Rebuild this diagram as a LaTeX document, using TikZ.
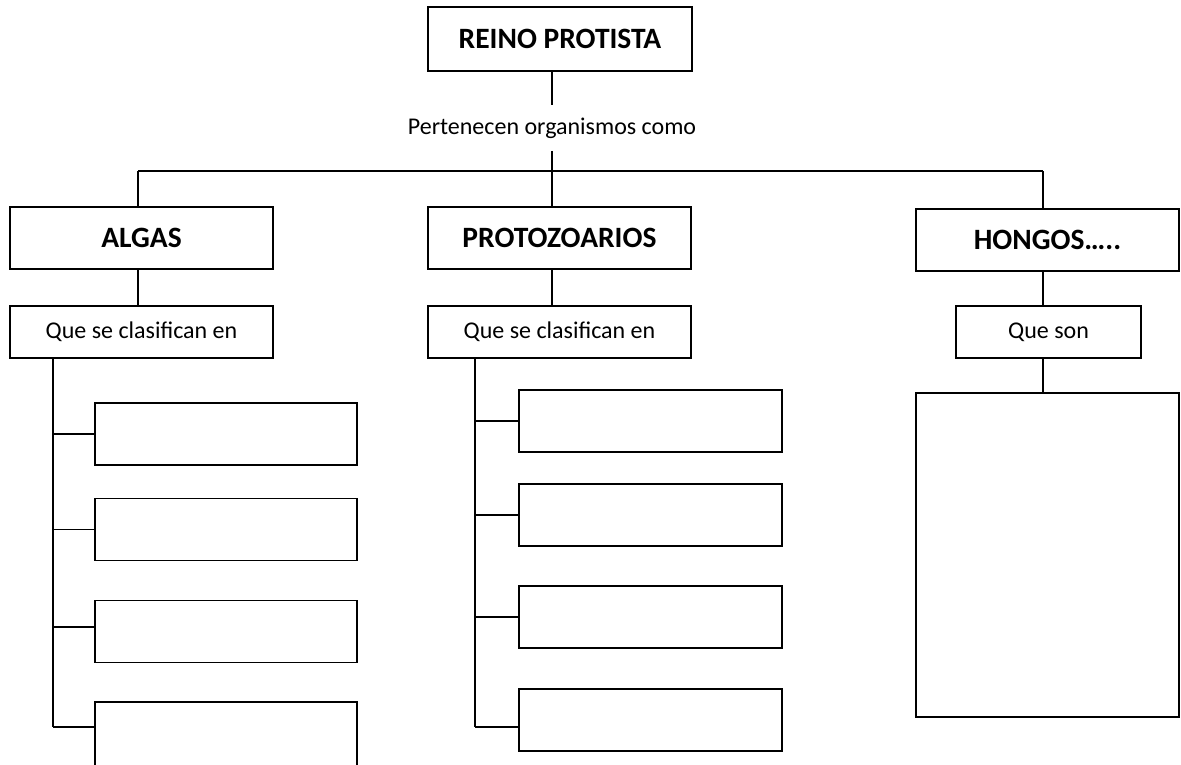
\documentclass[tikz,border=0pt]{standalone}
\usepackage{fontspec}
\setmainfont{Carlito}
\begin{document}
\begin{tikzpicture}[x=1pt,y=-1pt,
  line width=1.6pt,
  box/.style={draw=black,line width=1.6pt,rectangle,inner sep=0pt},
  bigt/.style={font=\fontsize{29.5}{34}\selectfont\bfseries},
  smallt/.style={font=\fontsize{24}{28}\selectfont}]
\useasboundingbox (0,0) rectangle (1181,764);
% top
\node[box,bigt,minimum width=264pt,minimum height=64pt] (reino) at (560,39) {REINO PROTISTA};
\node[smallt,inner sep=0pt,minimum height=44pt] (pert) at (552,128) {Pertenecen organismos como};
\coordinate (bar) at (552,171);
% level 2
\node[box,bigt,minimum width=263pt,minimum height=62pt] (algas) at (141.5,238) {ALGAS};
\node[box,bigt,minimum width=263pt,minimum height=62pt] (proto) at (559.5,238) {PROTOZOARIOS};
\node[box,bigt,minimum width=263pt,minimum height=62pt] (hongos) at (1047.5,240) {HONGOS\ldots..};
% level 3
\node[box,smallt,minimum width=263pt,minimum height=52pt] (qa) at (141.5,332) {Que se clasifican en};
\node[box,smallt,minimum width=263pt,minimum height=52pt] (qp) at (559.5,332) {Que se clasifican en};
\node[box,smallt,minimum width=185pt,minimum height=52pt] (qh) at (1048.5,332) {Que son};
\node[box,minimum width=263pt,minimum height=324pt] (big) at (1047.5,555) {};
% algas children
\node[box,minimum width=262pt,minimum height=62pt] (a1) at (226,434) {};
\node[box,minimum width=262pt,minimum height=62pt] (a2) at (226,529.5) {};
\node[box,minimum width=262pt,minimum height=62pt] (a3) at (226,631.5) {};
\node[box,minimum width=262pt,minimum height=66pt] (a4) at (226,735) {};
% proto children
\node[box,minimum width=263pt,minimum height=62pt] (p1) at (650.5,421) {};
\node[box,minimum width=263pt,minimum height=62pt] (p2) at (650.5,515) {};
\node[box,minimum width=263pt,minimum height=62pt] (p3) at (650.5,617) {};
\node[box,minimum width=263pt,minimum height=62pt] (p4) at (650.5,720) {};
% trunk coordinates
\coordinate (ta) at (53,727);
\coordinate (tp) at (475,727);
\coordinate (barL) at (138,171);
\coordinate (barR) at (1043,171);
% connectors top
\draw (reino.south -| bar) -- (pert.north -| bar);
\draw (pert.south -| bar) -- (proto.north -| bar);
\draw (barL) -- (barR);
\draw (barL) -- (algas.north -| barL);
\draw (barR) -- (hongos.north -| barR);
\draw (algas.south -| barL) -- (qa.north -| barL);
\draw (proto.south -| bar) -- (qp.north -| bar);
\draw (hongos.south -| barR) -- (qh.north -| barR);
\draw (qh.south -| barR) -- (big.north -| barR);
% algas trunk
\draw (qa.south -| ta) -- (ta);
\draw (a1.west) -- (a1.west -| ta);
\draw (a2.west) -- (a2.west -| ta);
\draw ([yshift=4.5pt]a3.west) -- ([yshift=4.5pt]a3.west -| ta);
\draw ([yshift=8pt]a4.west) -- (ta);
% proto trunk
\draw (qp.south -| tp) -- (tp);
\draw (p1.west) -- (p1.west -| tp);
\draw (p2.west) -- (p2.west -| tp);
\draw (p3.west) -- (p3.west -| tp);
\draw ([yshift=-7pt]p4.west) -- (tp);
\end{tikzpicture}
\end{document}
